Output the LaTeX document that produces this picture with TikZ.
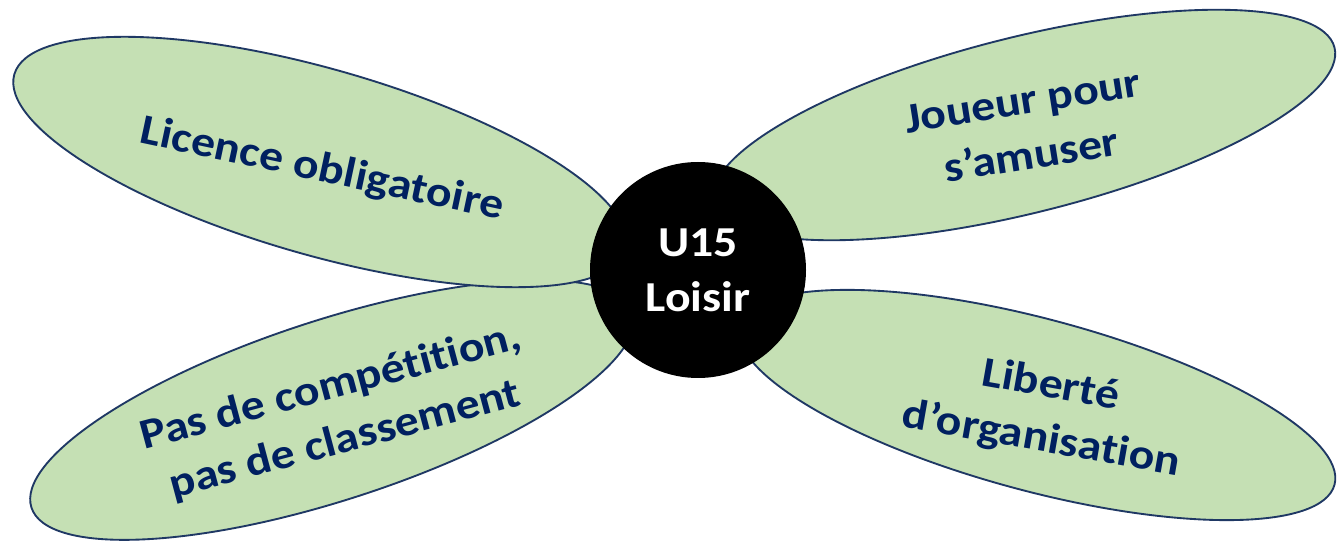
\documentclass[tikz,border=0pt]{standalone}
\usepackage{fontspec}
\setmainfont{Carlito}[FakeStretch=1.12, Ligatures=NoCommon]
\usetikzlibrary{shapes.geometric}
\definecolor{petalfill}{RGB}{197,224,180}
\definecolor{petalline}{RGB}{31,56,100}
\definecolor{petaltext}{RGB}{0,32,96}

\begin{document}
\begin{tikzpicture}[x=0.75pt,y=0.75pt,yscale=-1,xscale=1,
  petal/.style={ellipse, draw=petalline, line width=1.4pt, fill=petalfill, inner sep=0pt},
  label/.style={align=center, text=petaltext, inner sep=0pt,
    font=\fontsize{32}{41}\selectfont\bfseries},
  hub/.style={circle, fill=black, minimum size=162pt, inner sep=0pt,
    align=center, text=white, font=\fontsize{32}{41}\selectfont\bfseries}]
\useasboundingbox (0,0) rectangle (1338,541);

% petals
\node [petal, minimum width=632pt*0.75, minimum height=180pt*0.75, rotate=18] (competition) at (332,410) {};
\node [petal, minimum width=616pt*0.75, minimum height=172pt*0.75, rotate=-15] (liberte) at (1037,405) {};
\node [petal, minimum width=636pt*0.75, minimum height=186pt*0.75, rotate=-16] (licence) at (320,162) {};
\node [petal, minimum width=640pt*0.75, minimum height=176pt*0.75, rotate=14] (joueur) at (1024,125) {};

% texts
\node [label, rotate=15] (competitiontext) at (338,414) {Pas de compétition,\\pas de classement};
\node [label, rotate=-10] (libertetext) at (1046,413) {Liberté\\d’organisation};
\node [label, rotate=-12] (licencetext) at (322,170) {Licence obligatoire};
\node [label, rotate=9] (joueurtext) at (1027,128) {Joueur pour\\s’amuser};

% centre
\node [hub] (u15) at (698,270) {U15\\Loisir};

\end{tikzpicture}
\end{document}
